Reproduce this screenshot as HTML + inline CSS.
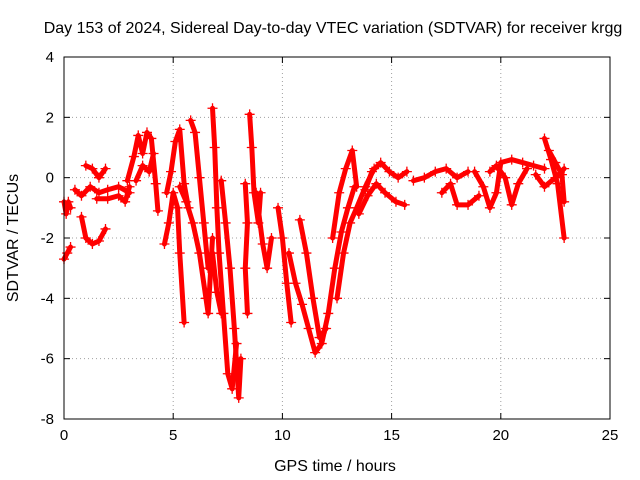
<!DOCTYPE html>
<html><head><meta charset="utf-8"><style>
body{margin:0;background:#fff;}
svg{display:block;font-family:"Liberation Sans",sans-serif;}
</style></head><body>
<svg id="chart" width="640" height="480" viewBox="0 0 640 480">
<rect width="640" height="480" fill="#fff"/>
<text x="333" y="33" font-size="16" text-anchor="middle">Day 153 of 2024, Sidereal Day-to-day VTEC variation (SDTVAR) for receiver krgg</text>
<text x="335" y="471" font-size="16" text-anchor="middle">GPS time / hours</text>
<text x="18" y="238" font-size="16" text-anchor="middle" transform="rotate(-90 18 238)">SDTVAR / TECUs</text>
<g id="grid"></g><g id="ticks"></g><g id="series"></g>
<rect x="64" y="57" width="546" height="362" fill="none" stroke="#000" stroke-width="1"/>
</svg>
<script>
const xTicks=[0,5,10,15,20,25];
const yTicks=[4,2,0,-2,-4,-6,-8];
const tracks=[
[[0,-2.7],[0.15,-2.5],[0.3,-2.3]],
[[0,-0.8],[0.1,-1.2],[0.2,-0.8],[0.3,-1.0]],
[[0.5,-0.4],[0.8,-0.6],[1.2,-0.3],[1.6,-0.5],[2.0,-0.4],[2.5,-0.3],[3.0,-0.5]],
[[0.8,-1.3],[1.0,-2.0],[1.3,-2.2],[1.6,-2.1],[1.9,-1.7]],
[[1.0,0.4],[1.3,0.3],[1.6,0.0],[1.9,0.3]],
[[1.5,-0.7],[2.0,-0.7],[2.5,-0.6],[2.8,-0.8],[3.0,-0.3]],
[[2.9,-0.1],[3.2,0.7],[3.4,1.4],[3.6,0.8],[3.8,1.5],[4.0,1.3],[4.2,-0.2],[4.3,-1.1]],
[[3.3,-0.1],[3.6,0.4],[3.9,0.2],[4.1,0.8]],
[[4.6,-2.2],[4.8,-1.5],[5.0,-0.5],[5.2,-1.0],[5.3,-2.5],[5.5,-4.8]],
[[4.7,-0.5],[4.9,0.2],[5.1,1.2],[5.3,1.6],[5.5,-0.2],[5.7,-1.0]],
[[5.3,-0.3],[5.6,-0.8],[5.9,-1.5],[6.2,-2.5],[6.5,-4.0],[6.6,-4.5],[6.8,-2.0]],
[[5.8,1.9],[6.0,1.5],[6.2,0.0],[6.4,-1.5],[6.6,-3.0],[6.8,-2.5],[7.0,-3.8],[7.2,-4.5]],
[[6.8,2.3],[6.9,1.0],[7.0,-1.0],[7.1,-2.5],[7.3,-4.5],[7.5,-6.5],[7.7,-7.0],[7.9,-5.5]],
[[7.2,-0.1],[7.4,-1.5],[7.6,-3.0],[7.8,-5.0],[8.0,-7.3],[8.1,-6.0]],
[[8.3,-0.2],[8.4,-1.5],[8.3,-3.0],[8.4,-4.5]],
[[8.5,2.1],[8.6,1.0],[8.7,-0.5],[8.9,-1.5],[9.0,-0.5]],
[[8.8,-0.5],[9.1,-2.2],[9.3,-3.0],[9.5,-2.0]],
[[9.8,-1.0],[10.0,-2.0],[10.2,-3.5],[10.4,-4.8]],
[[10.3,-2.5],[10.6,-3.5],[10.9,-4.2],[11.2,-5.0],[11.5,-5.8],[11.8,-5.5],[12.1,-4.5],[12.4,-3.0],[12.7,-1.8],[13.0,-1.0],[13.3,-0.3]],
[[10.8,-1.4],[11.1,-2.5],[11.4,-4.0],[11.7,-5.3],[12.0,-5.0]],
[[12.3,-2.0],[12.6,-0.5],[12.9,0.3],[13.2,0.9],[13.4,-0.3]],
[[12.5,-4.0],[12.8,-2.5],[13.1,-1.5],[13.4,-1.0],[13.8,-0.3],[14.2,0.3]],
[[13.5,-1.2],[13.9,-0.6],[14.3,-0.2],[14.7,-0.5],[15.2,-0.8],[15.6,-0.9]],
[[13.8,-0.4],[14.1,0.2],[14.5,0.5],[14.9,0.2],[15.3,0.0],[15.7,0.2]],
[[16.0,-0.1],[16.5,0.0],[17.0,0.2],[17.5,0.3],[18.0,0.0],[18.5,0.2]],
[[17.3,-0.5],[17.7,-0.2],[18.0,-0.9],[18.5,-0.9],[19.0,-0.6]],
[[18.8,0.2],[19.2,-0.3],[19.5,-1.0],[19.8,-0.5],[20.0,0.5],[20.5,0.6],[21.0,0.5],[21.5,0.4],[22.0,0.3]],
[[19.5,0.2],[19.8,0.4],[20.2,0.0],[20.5,-0.9],[20.8,-0.2],[21.2,0.3]],
[[22.0,1.3],[22.3,0.6],[22.6,-0.2],[22.9,-2.0]],
[[22.2,0.9],[22.5,0.5],[22.8,0.1],[22.9,-0.8]],
[[21.6,0.1],[22.0,-0.3],[22.5,0.0],[22.9,0.3]]
];
const X0=64,X1=610,Y0=419,Y1=57;
const xs=t=>X0+(t-0)/(25-0)*(X1-X0);
const ys=v=>Y0-(v+8)/(4+8)*(Y0-Y1);
const NS="http://www.w3.org/2000/svg";
const grid=document.getElementById('grid'),ticks=document.getElementById('ticks'),ser=document.getElementById('series');
function mk(tag,attrs,parent){const e=document.createElementNS(NS,tag);for(const k in attrs)e.setAttribute(k,attrs[k]);parent.appendChild(e);return e;}
xTicks.forEach(t=>{
 const x=xs(t);
 if(t>0&&t<25){const g=mk('line',{x1:x,x2:x,y1:Y1,y2:Y0,stroke:'#a0a0a0','stroke-dasharray':'1,3'},grid);
 
 }
 mk('line',{x1:x,x2:x,y1:Y0,y2:Y0-6,stroke:'#000'},ticks);
 mk('line',{x1:x,x2:x,y1:Y1,y2:Y1+6,stroke:'#000'},ticks);
 const l=mk('text',{x:x,y:Y0+21,'font-size':15,'text-anchor':'middle'},ticks);l.textContent=t;
 
 
});
yTicks.forEach(v=>{
 const y=ys(v);
 if(v>-8&&v<4){const g=mk('line',{x1:X0,x2:X1,y1:y,y2:y,stroke:'#a0a0a0','stroke-dasharray':'1,3'},grid);
 
 }
 mk('line',{x1:X0,x2:X0+6,y1:y,y2:y,stroke:'#000'},ticks);
 mk('line',{x1:X1,x2:X1-6,y1:y,y2:y,stroke:'#000'},ticks);
 const l=mk('text',{x:X0-10,y:y+5,'font-size':15,'text-anchor':'end'},ticks);l.textContent=v;
 
 
});
tracks.forEach((tr,i)=>{
 const pl=mk('polyline',{points:tr.map(p=>xs(p[0])+','+ys(p[1])).join(' '),fill:'none',stroke:'#ff0000','stroke-width':5,'stroke-linejoin':'round','stroke-linecap':'round'},ser);
 
 
 tr.forEach(p=>{
  const x=xs(p[0]),y=ys(p[1]);
  const m=mk('path',{d:`M${x-5},${y}H${x+5}M${x},${y-5}V${y+5}`,stroke:'#ff0000','stroke-width':1.3},ser);
  
  
 });
});
</script>
</body></html>
